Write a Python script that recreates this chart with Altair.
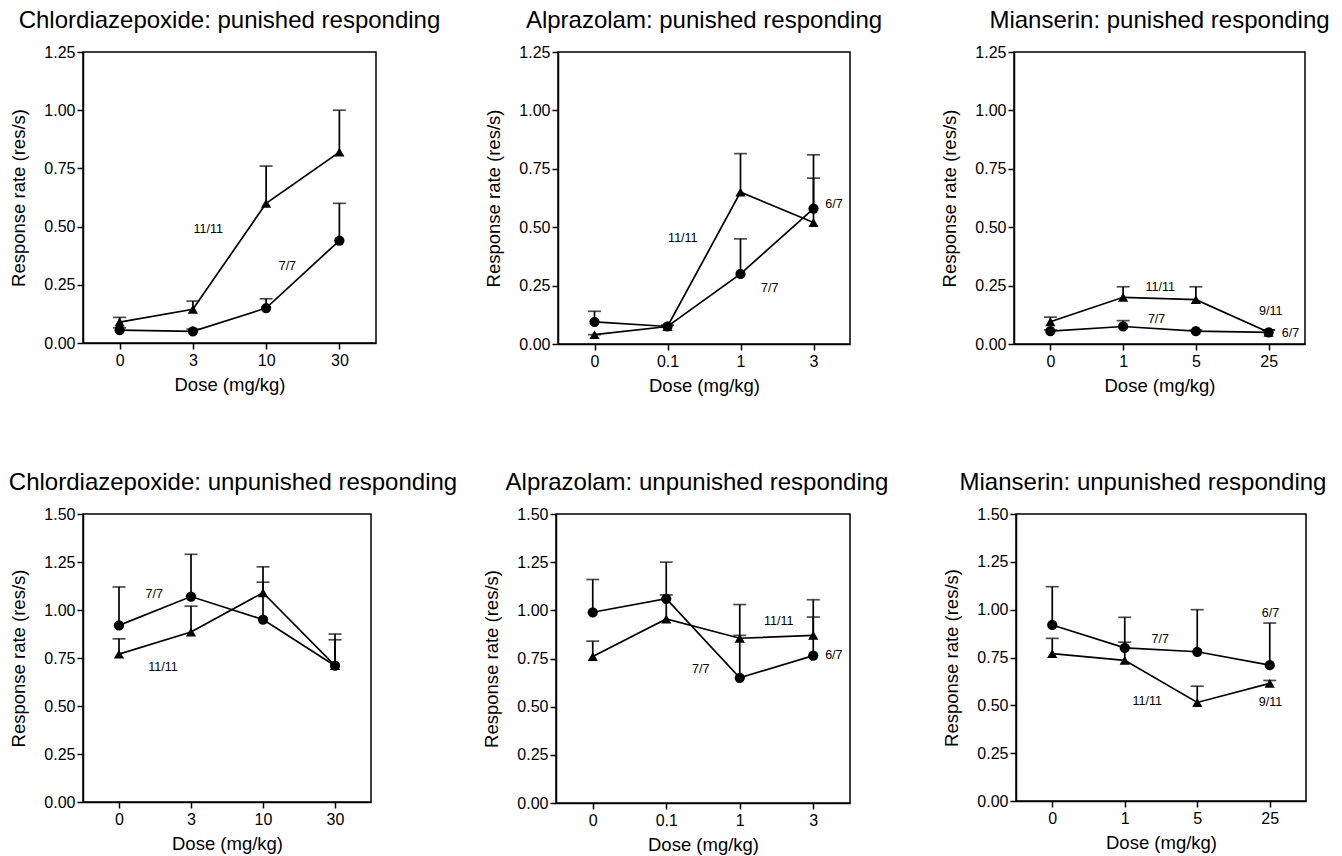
import altair as alt
import pandas as pd

FONT = "Liberation Sans"

# ---- dose labels (x-axis categories) ----
CDP_DOSES = ["0", "3", "10", "30"]
ALP_DOSES = ["0", "0.1", "1", "3"]
MIA_DOSES = ["0", "1", "5", "25"]

# ---- punished responding ----
CDP_P_CIRCLE = [0.055, 0.05, 0.15, 0.44]
CDP_P_CIRCLE_ERR = [0.065, 0.06, 0.19, 0.60]
CDP_P_TRI = [0.09, 0.145, 0.60, 0.82]
CDP_P_TRI_ERR = [0.11, 0.18, 0.76, 1.00]
CDP_P_NOTE = ["11/11", "7/7"]
CDP_P_NOTE_X = [1.21, 2.29]
CDP_P_NOTE_Y = [0.49, 0.33]

ALP_P_CIRCLE = [0.095, 0.075, 0.30, 0.58]
ALP_P_CIRCLE_ERR = [0.14, 0.08, 0.45, 0.81]
ALP_P_TRI = [0.04, 0.075, 0.65, 0.52]
ALP_P_TRI_ERR = [0.04, 0.08, 0.815, 0.71]
ALP_P_NOTE = ["11/11", "7/7", "6/7"]
ALP_P_NOTE_X = [1.21, 2.4, 3.28]
ALP_P_NOTE_Y = [0.455, 0.24, 0.60]

MIA_P_CIRCLE = [0.055, 0.075, 0.055, 0.05]
MIA_P_CIRCLE_ERR = [0.06, 0.10, 0.06, 0.06]
MIA_P_TRI = [0.095, 0.20, 0.19, 0.05]
MIA_P_TRI_ERR = [0.115, 0.245, 0.245, 0.06]
MIA_P_NOTE = ["11/11", "7/7", "9/11", "6/7"]
MIA_P_NOTE_X = [1.51, 1.46, 3.03, 3.3]
MIA_P_NOTE_Y = [0.245, 0.105, 0.14, 0.046]

# ---- unpunished responding ----
CDP_U_CIRCLE = [0.92, 1.07, 0.95, 0.71]
CDP_U_CIRCLE_ERR = [1.12, 1.29, 1.145, 0.845]
CDP_U_TRI = [0.77, 0.885, 1.09, 0.71]
CDP_U_TRI_ERR = [0.85, 1.02, 1.225, 0.875]
CDP_U_NOTE = ["7/7", "11/11"]
CDP_U_NOTE_X = [0.49, 0.61]
CDP_U_NOTE_Y = [1.085, 0.705]

ALP_U_CIRCLE = [0.99, 1.06, 0.65, 0.765]
ALP_U_CIRCLE_ERR = [1.16, 1.25, 1.03, 0.965]
ALP_U_TRI = [0.76, 0.955, 0.855, 0.87]
ALP_U_TRI_ERR = [0.84, 1.08, 0.87, 1.055]
ALP_U_NOTE = ["11/11", "7/7", "6/7"]
ALP_U_NOTE_X = [2.53, 1.47, 3.28]
ALP_U_NOTE_Y = [0.945, 0.695, 0.77]

MIA_U_CIRCLE = [0.92, 0.80, 0.78, 0.71]
MIA_U_CIRCLE_ERR = [1.12, 0.96, 1.00, 0.93]
MIA_U_TRI = [0.77, 0.735, 0.515, 0.615]
MIA_U_TRI_ERR = [0.85, 0.83, 0.60, 0.63]
MIA_U_NOTE = ["6/7", "7/7", "11/11", "9/11"]
MIA_U_NOTE_X = [3.01, 1.49, 1.31, 3.01]
MIA_U_NOTE_Y = [0.985, 0.845, 0.525, 0.52]

P_TICKS = [0, 0.25, 0.5, 0.75, 1.0, 1.25]
U_TICKS = [0, 0.25, 0.5, 0.75, 1.0, 1.25, 1.5]


def panel(title, doses, c, ce, t, te, notes, nx, ny, ticks, width, height, dx=0):
    rows = []
    for i in range(len(doses)):
        rows.append({"idx": i, "mean": c[i], "top": ce[i], "series": "circle"})
    for i in range(len(doses)):
        rows.append({"idx": i, "mean": t[i], "top": te[i], "series": "triangle"})
    df = pd.DataFrame(rows)
    ndf = pd.DataFrame({"idx": nx, "mean": ny, "label": notes})

    label_expr = "[" + ",".join("'%s'" % d for d in doses) + "][datum.value]"
    x = alt.X("idx:Q",
              scale=alt.Scale(domain=[-0.5, len(doses) - 0.5], nice=False, zero=False),
              axis=alt.Axis(values=list(range(len(doses))), labelExpr=label_expr,
                            title="Dose (mg/kg)"))
    y = alt.Y("mean:Q",
              scale=alt.Scale(domain=[ticks[0], ticks[-1]], nice=False),
              axis=alt.Axis(values=ticks, format=".2f", title="Response rate (res/s)"))

    base = alt.Chart(df)
    line = base.mark_line(color="black", strokeWidth=1.7).encode(x=x, y=y, detail="series:N")
    err = base.mark_rule(color="black", strokeWidth=1.7).encode(x=x, y=y, y2="top:Q")
    cap = base.mark_tick(color="black", orient="horizontal", size=13, thickness=1.7).encode(
        x=x, y=alt.Y("top:Q", scale=alt.Scale(domain=[ticks[0], ticks[-1]], nice=False)))
    pts = base.mark_point(filled=True, color="black", opacity=1, size=105).encode(
        x=x, y=y,
        shape=alt.Shape("series:N",
                        scale=alt.Scale(domain=["circle", "triangle"],
                                        range=["circle", "triangle-up"]),
                        legend=None))
    txt = alt.Chart(ndf).mark_text(font=FONT, fontSize=12.5, color="black").encode(
        x=x, y=y, text="label:N")

    return alt.layer(line, err, cap, pts, txt).properties(
        width=width, height=height,
        title=alt.TitleParams(title, font=FONT, fontSize=24, fontWeight="normal",
                              color="black", anchor="middle", offset=11, dx=dx))


p1 = panel("Chlordiazepoxide: punished responding", CDP_DOSES,
           CDP_P_CIRCLE, CDP_P_CIRCLE_ERR, CDP_P_TRI, CDP_P_TRI_ERR,
           CDP_P_NOTE, CDP_P_NOTE_X, CDP_P_NOTE_Y, P_TICKS, 293, 291)
p2 = panel("Alprazolam: punished responding", ALP_DOSES,
           ALP_P_CIRCLE, ALP_P_CIRCLE_ERR, ALP_P_TRI, ALP_P_TRI_ERR,
           ALP_P_NOTE, ALP_P_NOTE_X, ALP_P_NOTE_Y, P_TICKS, 292, 292)
p3 = panel("Mianserin: punished responding", MIA_DOSES,
           MIA_P_CIRCLE, MIA_P_CIRCLE_ERR, MIA_P_TRI, MIA_P_TRI_ERR,
           MIA_P_NOTE, MIA_P_NOTE_X, MIA_P_NOTE_Y, P_TICKS, 291, 292)
p4 = panel("Chlordiazepoxide: unpunished responding", CDP_DOSES,
           CDP_U_CIRCLE, CDP_U_CIRCLE_ERR, CDP_U_TRI, CDP_U_TRI_ERR,
           CDP_U_NOTE, CDP_U_NOTE_X, CDP_U_NOTE_Y, U_TICKS, 288, 288, dx=6)
p5 = panel("Alprazolam: unpunished responding", ALP_DOSES,
           ALP_U_CIRCLE, ALP_U_CIRCLE_ERR, ALP_U_TRI, ALP_U_TRI_ERR,
           ALP_U_NOTE, ALP_U_NOTE_X, ALP_U_NOTE_Y, U_TICKS, 294, 289, dx=-6)
p6 = panel("Mianserin: unpunished responding", MIA_DOSES,
           MIA_U_CIRCLE, MIA_U_CIRCLE_ERR, MIA_U_TRI, MIA_U_TRI_ERR,
           MIA_U_NOTE, MIA_U_NOTE_X, MIA_U_NOTE_Y, U_TICKS, 290, 287, dx=-18)

row1 = alt.hconcat(alt.hconcat(p1, p2, spacing=42), p3, spacing=57)
row2 = alt.hconcat(alt.hconcat(p4, p5, spacing=24), p6, spacing=52)

chart = alt.vconcat(row1, row2, spacing=74).configure(
    background="white", padding=0
).configure_view(
    stroke="black", strokeWidth=1.5
).configure_axis(
    grid=False, domainColor="black", domainWidth=1.5, tickColor="black", tickWidth=1.5,
    tickSize=6, labelColor="black", titleColor="black", labelFont=FONT, titleFont=FONT,
    labelFontSize=16, titleFontSize=18.5, titleFontWeight="normal", labelPadding=2,
).configure_axisY(titlePadding=15).configure_axisX(titlePadding=7, labelPadding=3)

chart.save("out.html", embed_options={"renderer": "svg", "actions": False})
